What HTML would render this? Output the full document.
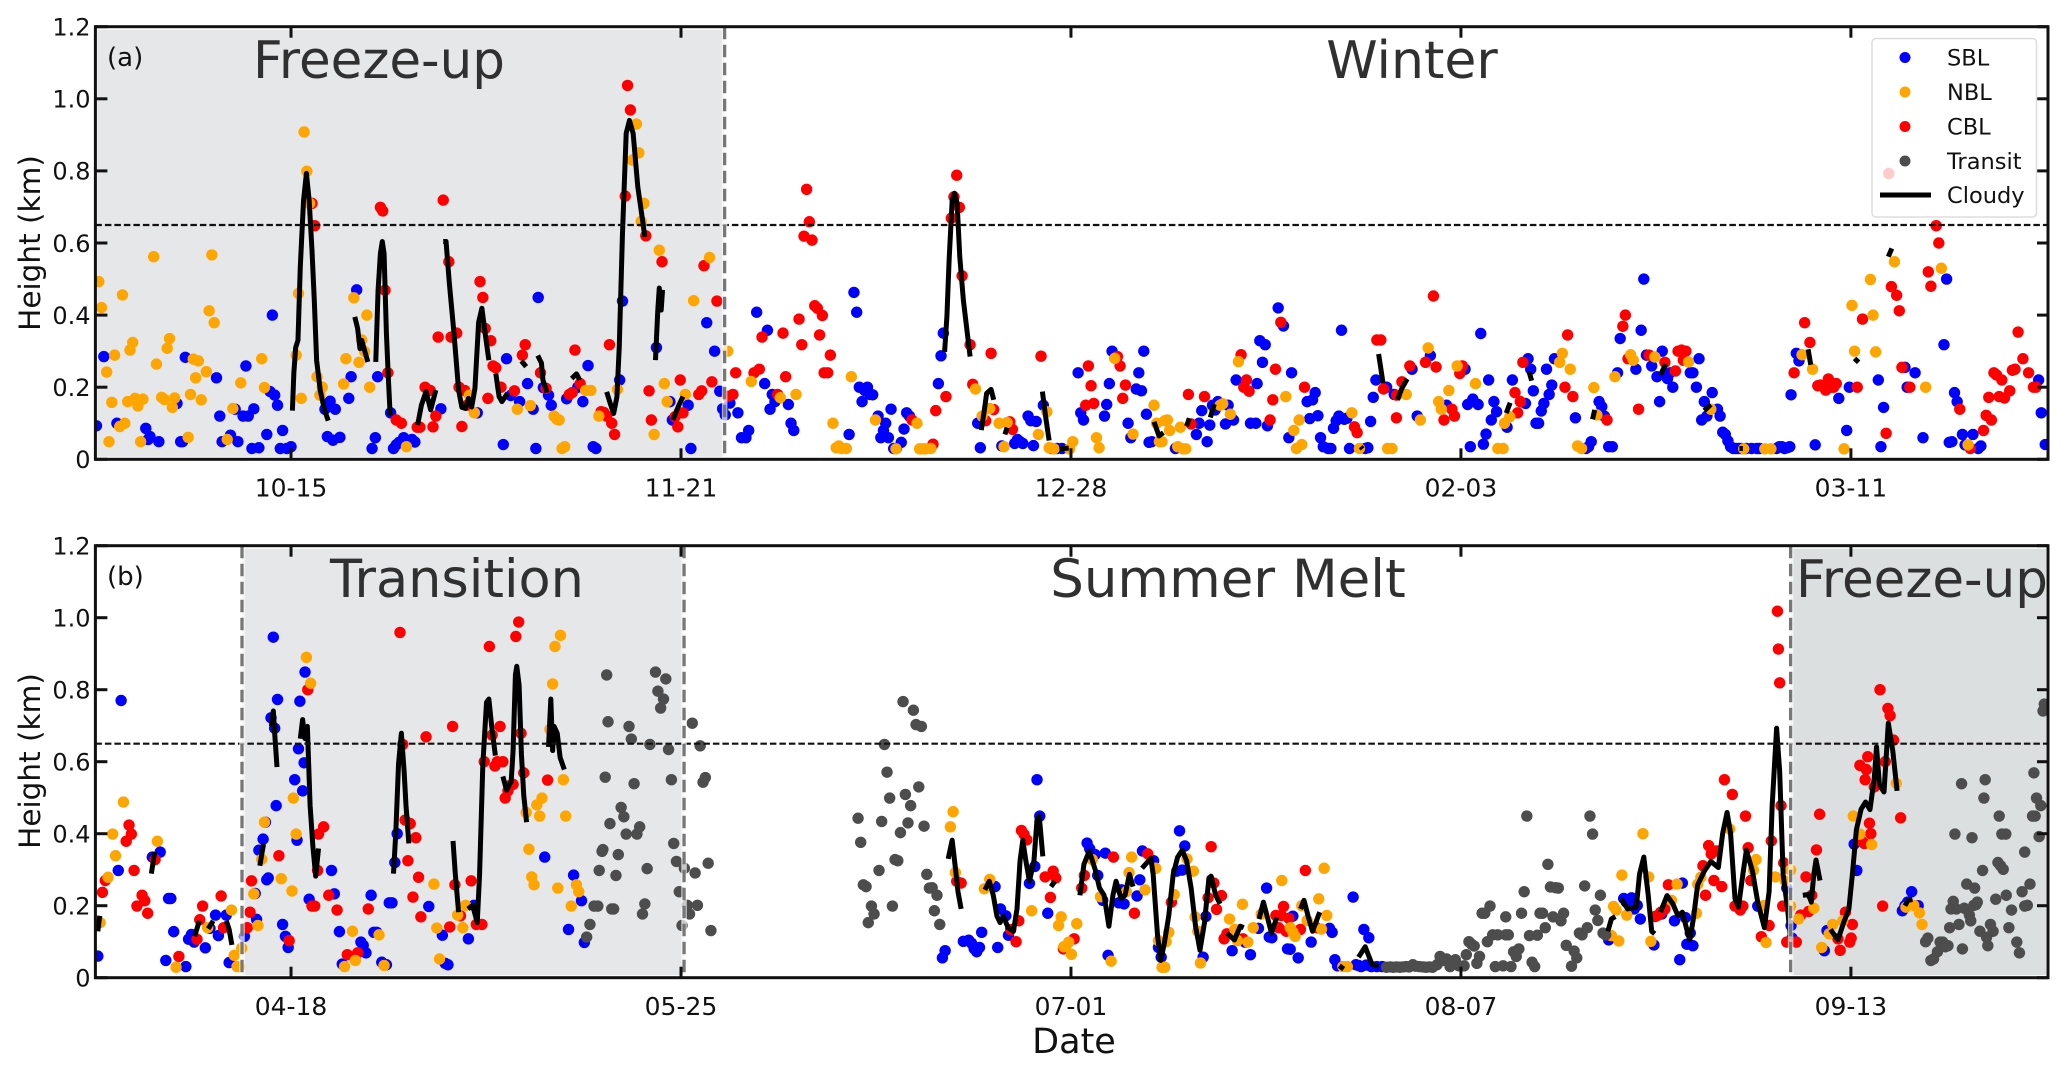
<!DOCTYPE html>
<html lang="en">
<head>
<meta charset="utf-8">
<title>Boundary layer height by season</title>
<style>
html,body{margin:0;padding:0;background:#fff;}
svg{display:block;font-family:"DejaVu Sans","Liberation Sans",sans-serif;}
</style>
</head>
<body>
<svg id="chart" xmlns="http://www.w3.org/2000/svg" width="2067" height="1070" viewBox="0 0 2067 1070">
  <defs>
    <clipPath id="clip-a"><rect x="95.4" y="26.7" width="1952.6" height="432.6"/></clipPath>
    <clipPath id="clip-b"><rect x="95.4" y="545.7" width="1952.6" height="432"/></clipPath>
  </defs>
  <g id="panel-a"></g>
  <g id="panel-b"></g>
  <text x="379" y="78" font-size="51.5" fill="#303030" text-anchor="middle">Freeze-up</text>
  <text x="1412" y="78" font-size="52" fill="#303030" text-anchor="middle">Winter</text>
  <text x="457" y="597" font-size="52.5" fill="#303030" text-anchor="middle">Transition</text>
  <text x="1228" y="597" font-size="53" fill="#303030" text-anchor="middle">Summer Melt</text>
  <text x="1922" y="597" font-size="51.5" fill="#303030" text-anchor="middle">Freeze-up</text>
  <text x="107" y="66" font-size="26" fill="#111">(a)</text>
  <text x="107" y="585" font-size="26" fill="#111">(b)</text>
  <text transform="translate(40,243) rotate(-90)" font-size="29.5" fill="#111" text-anchor="middle">Height (km)</text>
  <text transform="translate(40,761) rotate(-90)" font-size="29.5" fill="#111" text-anchor="middle">Height (km)</text>
  <text x="1074" y="1053" font-size="35" fill="#111" text-anchor="middle">Date</text>
  <g>
    <rect x="1872" y="38.5" width="164.5" height="178.5" rx="4" fill="#fff" fill-opacity="0.8" stroke="#ddd" stroke-width="1.5"/>
    <circle cx="1905" cy="57.5" r="5.5" fill="#0000ff"/>
    <text x="1947" y="65.5" font-size="22.5" fill="#111">SBL</text>
    <circle cx="1905" cy="92" r="5.5" fill="#ffa500"/>
    <text x="1947" y="100" font-size="22.5" fill="#111">NBL</text>
    <circle cx="1905" cy="126.5" r="5.5" fill="#ff0000"/>
    <text x="1947" y="134.5" font-size="22.5" fill="#111">CBL</text>
    <circle cx="1905" cy="161" r="5.5" fill="#4d4d4d"/>
    <text x="1947" y="169" font-size="22.5" fill="#111">Transit</text>
    <line x1="1880" x2="1931" y1="195" y2="195" stroke="#000" stroke-width="5"/>
    <text x="1947" y="203" font-size="22.5" fill="#111">Cloudy</text>
  </g>
</svg>
<script>
// x values: days after the first labelled tick; y values: height in km
const tickDays = [0, 37, 74, 111, 148];
const tickLabelsA = ['10-15', '11-21', '12-28', '02-03', '03-11'];
const tickLabelsB = ['04-18', '05-25', '07-01', '08-07', '09-13'];
const heightTicks = [0, 0.2, 0.4, 0.6, 0.8, 1.0, 1.2];
const heightTickLabels = ['0', '0.2', '0.4', '0.6', '0.8', '1.0', '1.2'];
const thresholdHeight = 0.65;
const seasonEdgesA = [41.14];
const seasonEdgesB = [-4.65, 37.29, 142.28];

const sblA = [[-18.46,.093],[-17.76,.285],[-16.52,.1],[-13.78,.086],[-13.38,.063],[-13.56,.055],[-12.54,.049],[-10.82,.155],[-10.47,.049],[-10.29,.049],[-10.03,.283],[-7.07,.226],[-6.76,.12],[-6.54,.049],[-5.74,.067],[-5.3,.139],[-5.04,.049],[-4.55,.12],[-4.28,.259],[-4.06,.12],[-3.71,.03],[-3.53,.14],[-3.05,.032],[-2.3,.069],[-1.99,.188],[-1.77,.4],[-1.55,.178],[-1.28,.15],[-1.02,.03],[-.8,.08],[-.4,.03],[0,.035],[3.22,.139],[3.45,.063],[3.71,.161],[3.98,.053],[4.2,.139],[4.64,.061],[5.48,.169],[5.7,.229],[6.23,.47],[7.69,.03],[8,.06],[8.22,.229],[9.45,.129],[9.72,.03],[9.98,.04],[10.25,.047],[10.69,.06],[11.48,.055],[11.75,.048],[14.22,.14],[17.67,.129],[20.14,.041],[20.45,.279],[20.85,.177],[21.69,.16],[22.44,.21],[22.97,.139],[23.23,.03],[23.45,.449],[23.94,.199],[24.43,.178],[24.69,.15],[26.15,.168],[27.21,.2],[27.69,.16],[28.18,.26],[28.67,.035],[28.93,.03],[31.18,.22],[31.45,.439],[34.67,.31],[35.95,.16],[36.18,.109],[37.68,.15],[37.94,.03],[39.44,.379],[40.19,.3],[40.68,.189],[40.95,.14],[41.2,.123],
[41.64,.156],[42.4,.129],[42.74,.06],[43.16,.06],[43.42,.08],[44.18,.408],[44.94,.21],[45.2,.358],[45.45,.139],[45.66,.18],[45.92,.16],[47.19,.152],[47.44,.1],[47.7,.08],[52.95,.069],[53.41,.463],[53.67,.408],[53.92,.2],[54.18,.16],[54.43,.191],[54.69,.2],[54.94,.18],[55.19,.179],[55.7,.12],[55.96,.06],[56.21,.08],[56.42,.1],[56.68,.06],[56.93,.139],[57.18,.03],[57.44,.03],[57.9,.047],[58.16,.084],[58.41,.129],[58.67,.12],[61.42,.21],[61.67,.287],[61.89,.35],[65.15,.1],[65.4,.032],[67.44,.037],[68.66,.044],[68.92,.055],[69.17,.049],[69.43,.044],[69.93,.12],[70.19,.107],[70.44,.038],[70.7,.105],[71.38,.15],[72.69,.03],[73.15,.03],[74.68,.24],[74.93,.129],[75.19,.109],[77.18,.12],[77.39,.152],[77.64,.21],[77.9,.3],[79.42,.1],[79.68,.06],[80.19,.195],[80.44,.24],[80.69,.19],[80.91,.3],[81.16,.125],[81.41,.047],[81.67,.049],[83.91,.03],[85.9,.069],[86.16,.1],[86.41,.135],[86.92,.049],[87.17,.095],[87.43,.15],[87.68,.137],[87.94,.16],[88.66,.098],[88.91,.15],[89.42,.109],[89.67,.22],[91.03,.1],[91.54,.1],[91.66,.21],[91.92,.329],[92.17,.269],[92.43,.318],[92.64,.093],[93.66,.42],[94.16,.37],[94.67,.06],[94.93,.24],[96.41,.16],[96.66,.113],[96.92,.165],[97.17,.185],[97.43,.121],[97.68,.06],[97.94,.035],[98.4,.03],[98.66,.03],[98.91,.086],[99.16,.107],[99.42,.12],[99.67,.358],[99.93,.111],[100.18,.114],[100.43,.03],[101.92,.03],[102.17,.032],[102.43,.105],[102.68,.172],[102.93,.22],[103.95,.2],[104.67,.18],
[106.36,.25],[106.85,.12],[108.1,.288],[109.64,.15],[111.39,.25],[111.64,.152],[111.89,.035],[112.13,.167],[112.63,.152],[112.88,.349],[113.13,.042],[113.38,.07],[113.63,.22],[113.88,.109],[114.13,.16],[114.38,.132],[115.38,.089],[115.88,.22],[117.12,.155],[117.37,.279],[117.62,.25],[117.87,.19],[118.12,.1],[118.37,.1],[118.62,.134],[118.87,.155],[119.12,.25],[119.37,.18],[119.62,.206],[119.87,.279],[121.86,.115],[122.86,.03],[123.11,.035],[123.36,.049],[124.11,.16],[124.36,.146],[124.61,.12],[125.02,.035],[125.36,.035],[125.86,.24],[126.11,.335],[127.6,.25],[128.1,.358],[128.35,.5],[128.6,.289],[129.1,.259],[129.6,.229],[129.85,.16],[130.1,.3],[130.35,.238],[130.6,.224],[130.85,.24],[131.1,.2],[132.76,.24],[133.01,.24],[133.34,.2],[133.59,.279],[133.84,.109],[134.09,.16],[134.34,.12],[134.84,.185],[135.34,.139],[135.59,.12],[135.84,.075],[136.08,.069],[136.33,.051],[136.58,.035],[136.83,.03],[137.08,.03],[137.33,.03],[137.58,.03],[138.08,.03],[138.58,.03],[139.08,.03],[139.33,.03],[140.95,.03],[141.2,.035],[141.45,.035],[141.7,.03],[141.95,.032],[142.2,.035],[142.32,.179],[142.82,.294],[143.07,.273],[144.61,.04],[146.85,.169],[147.6,.08],[147.85,.2],[150.6,.22],[150.85,.035],[151.1,.144],[153.13,.255],[153.34,.2],[154.09,.24],[154.84,.06],[156.83,.318],[157.08,.5],[157.33,.047],[157.58,.049],[157.83,.185],[158.08,.16],[158.58,.069],[158.83,.04],[159.58,.069],[160.08,.03],[160.33,.037],[165.81,.22],[166.06,.129],[166.44,.041]];

const cblA = [[1.99,.71],[2.25,.648],[8.48,.699],[8.7,.689],[8.92,.469],[9.19,.24],[9.98,.109],[10.47,.1],[11.97,.089],[12.23,.089],[12.72,.2],[13.21,.191],[13.47,.09],[13.74,.12],[13.96,.339],[14.44,.719],[14.97,.548],[15.19,.339],[15.72,.35],[15.94,.2],[16.21,.091],[16.48,.191],[16.7,.15],[17.93,.493],[18.2,.449],[18.42,.363],[18.68,.169],[18.95,.329],[19.17,.259],[19.43,.254],[19.92,.2],[21.2,.19],[21.95,.289],[22.22,.318],[23.67,.24],[24.2,.197],[26.41,.18],[26.68,.185],[26.94,.303],[27.43,.21],[29.42,.132],[29.68,.13],[29.95,.12],[30.21,.318],[30.43,.1],[30.7,.069],[31.71,.73],[31.93,1.037],[32.2,.969],[33.66,.62],[33.97,.19],[34.19,.109],[35.2,.548],[36.44,.118],[36.7,.09],[36.93,.22],[37.19,.129],[38.69,.18],[38.96,.19],[39.18,.537],[39.93,.215],[40.41,.439],[41.43,.175],
[41.93,.18],[42.19,.24],[43.93,.24],[44.43,.25],[44.69,.339],[46.17,.18],[46.68,.35],[46.93,.229],[48.2,.389],[48.46,.318],[48.67,.619],[48.92,.749],[49.18,.659],[49.43,.608],[49.69,.426],[49.94,.419],[50.15,.345],[50.41,.399],[50.58,.24],[50.92,.24],[51.17,.289],[58.92,.109],[60.91,.042],[61.17,.135],[62.14,.174],[62.65,.669],[62.9,.728],[63.16,.788],[63.41,.699],[63.67,.509],[64.43,.318],[64.68,.208],[65.91,.107],[66.42,.294],[66.67,.138],[68.2,.104],[68.45,.083],[71.16,.286],[72.14,.03],[75.4,.15],[75.65,.259],[75.91,.204],[76.16,.155],[78.41,.285],[78.66,.259],[78.91,.169],[79.17,.206],[85.14,.18],[85.4,.098],[86.67,.174],[90.14,.29],[90.4,.2],[90.65,.22],[90.9,.189],[92.89,.109],[93.15,.165],[93.4,.25],[93.91,.38],[96.16,.2],[100.9,.09],[101.15,.074],[103.02,.331],[103.4,.331],[103.65,.195],[104.88,.115],
[104.9,.178],[105.4,.215],[106.15,.259],[107.64,.269],[108.39,.453],[108.64,.256],[109.39,.109],[110.14,.139],[110.39,.12],[110.89,.238],[111.14,.259],[116.13,.185],[116.38,.129],[116.63,.16],[116.88,.269],[120.87,.2],[121.12,.345],[121.62,.174],[124.86,.109],[126.36,.369],[126.6,.4],[126.85,.279],[127.85,.139],[128.85,.289],[130.35,.269],[131.35,.245],[131.6,.3],[131.93,.303],[132.1,.275],[132.34,.3],[142.61,.24],[143.61,.379],[144.11,.324],[144.86,.204],[145.11,.206],[145.36,.204],[145.61,.192],[145.86,.223],[146.11,.2],[146.36,.2],[146.61,.21],[148.6,.2],[149.1,.389],[151.34,.072],[151.59,.793],[151.84,.479],[152.34,.455],[152.59,.412],[152.84,.255],[153.59,.2],[155.34,.52],[155.59,.48],[156.09,.648],[156.34,.6],[158.33,.139],[159.33,.03],[160.58,.08],[160.83,.122],[161.08,.172],[161.33,.109],[161.57,.24],[161.82,.234],[162.07,.174],[162.32,.22],[162.57,.17],[163.07,.19],[163.32,.247],[163.57,.25],[163.86,.353],[164.32,.279],[164.86,.24],[165.32,.2],[165.56,.2]];

const nblA = [[-18.24,.493],[-17.98,.421],[-17.49,.242],[-17.27,.049],[-17,.158],[-16.74,.289],[-16.25,.091],[-15.99,.456],[-15.77,.1],[-15.5,.16],[-15.28,.303],[-15.02,.324],[-14.8,.169],[-14.53,.148],[-14.27,.049],[-14.05,.167],[-13.03,.562],[-12.77,.264],[-12.28,.172],[-12.01,.166],[-11.75,.308],[-11.53,.335],[-11.26,.144],[-11.04,.17],[-9.76,.061],[-9.54,.18],[-9.28,.278],[-9.05,.226],[-8.79,.273],[-8.52,.165],[-8.04,.243],[-7.77,.412],[-7.51,.567],[-7.29,.379],[-6.05,.055],[-5.52,.141],[-4.77,.212],[-2.78,.279],[-2.52,.199],[.49,.289],[.71,.46],[.97,.169],[1.24,.908],[1.5,.799],[1.77,.71],[2.47,.229],[2.74,.178],[2.96,.2],[4.99,.209],[5.21,.279],[5.96,.448],[6.45,.269],[6.71,.331],[6.98,.299],[7.2,.4],[7.46,.2],[10.95,.035],[16.92,.178],[17.4,.129],[21.47,.139],[22.7,.149],[24.96,.12],[25.22,.111],[25.44,.109],[25.71,.03],[25.97,.035],[27.96,.191],[28.45,.191],[29.2,.12],[30.97,.194],[32.38,.83],[32.77,.93],[33,.85],[33.22,.66],[33.48,.71],[34.45,.069],[34.94,.58],[35.42,.21],[35.69,.16],[37.41,.18],[38.2,.44],[39.71,.56],[41.43,.3],
[43.67,.216],[46.42,.171],[47.91,.18],[51.42,.1],[51.72,.032],[51.97,.037],[52.23,.03],[52.69,.03],[53.16,.229],[55.45,.109],[57.4,.029],[59.39,.1],[59.64,.029],[59.9,.029],[60.19,.029],[60.7,.03],[64.94,.195],[65.57,.12],[66.29,.141],[67.18,.1],[67.65,.035],[67.94,.102],[70.91,.069],[71.71,.132],[71.93,.032],[72.39,.029],[73.87,.029],[74.17,.049],[76.42,.06],[76.67,.032],[78.15,.28],[79.89,.07],[81.88,.15],[82.13,.1],[82.39,.049],[82.64,.049],[82.9,.107],[83.15,.109],[83.36,.08],[84.13,.035],[84.38,.089],[84.63,.029],[84.89,.029],[88.15,.15],[88.4,.154],[89.12,.125],[89.89,.271],[94.38,.174],[95.14,.08],[95.39,.03],[95.65,.109],[95.9,.041],[100.65,.129],[101.37,.03],[104.04,.03],[104.46,.03],
[105.81,.18],[107.15,.109],[107.89,.309],[108.89,.16],[109.14,.139],[109.85,.191],[110.64,.259],[112.38,.21],[114.5,.03],[115,.03],[115.13,.1],[115.63,.118],[120.37,.269],[120.62,.294],[121.37,.25],[122.07,.037],[122.45,.03],[123.61,.199],[123.9,.123],[125.61,.229],[127.1,.29],[127.35,.275],[129.39,.284],[132.59,.27],[134.71,.139],[137.83,.029],[139.83,.029],[140.41,.029],[143.36,.29],[144.36,.25],[147.35,.029],[148.1,.427],[148.35,.3],[149.85,.499],[150.1,.4],[150.35,.298],[152.13,.548],[155.09,.2],[156.58,.53],[159.12,.04]];

const cloudyA = [
[[.13,.135],[.27,.24],[.44,.31],[.66,.33],[.88,.534],[1.19,.719],[1.46,.793],[1.72,.719],[1.99,.58],[2.21,.44],[2.43,.274],[2.78,.19],[3.18,.137],[3.53,.107]],
[[6.05,.395],[6.32,.363],[6.54,.307],[6.71,.33],[6.93,.307],[7.29,.27]],
[[8.04,.27],[8.26,.469],[8.48,.571],[8.66,.604],[8.83,.571],[9.05,.35],[9.23,.229],[9.41,.12]],
[[12.01,.095],[12.37,.15],[12.81,.188],[13.25,.137],[13.74,.192]],
[[14.44,.604],[14.71,.604],[15.02,.489],[15.46,.35],[15.9,.192],[16.21,.144],[16.56,.141],[16.83,.169],[17.14,.145],[17.45,.197],[17.8,.38],[18.11,.419],[18.42,.349],[18.77,.275]],
[[19.43,.238],[19.74,.174],[20.01,.16],[20.54,.183]],
[[21.86,.273],[22.31,.257]],
[[23.41,.288],[23.76,.267],[23.9,.22],[24.29,.185]],
[[26.63,.224],[27.08,.237],[27.39,.22]],
[[29.95,.187],[30.34,.15],[30.61,.127],[30.92,.173],[31.14,.31],[31.45,.627],[31.8,.904],[32.11,.94],[32.46,.904],[32.9,.756],[33.35,.664],[33.57,.617]],
[[34.58,.275],[34.8,.414],[34.94,.475],[35.12,.414],[35.25,.47]],
[[36.22,.109],[36.8,.15],[37.19,.174]],
[[62.01,.298],[62.23,.396],[62.44,.553],[62.73,.719],[62.95,.738],[63.2,.71],[63.45,.562],[63.79,.442],[64.09,.368],[64.43,.285]],
[[65.49,.081],[65.74,.128],[66,.183],[66.42,.194],[66.67,.165]],
[[67.73,.069],[67.94,.088]],
[[71.93,.052],[71.64,.109],[71.29,.188]],
[[72.9,.029],[73.79,.031]],
[[81.88,.104],[82.35,.065],[82.77,.074]],
[[84.97,.092],[85.23,.114]],
[[87.22,.116],[87.6,.153]],
[[101.49,.035],[101.66,.029]],
[[103.19,.292],[103.61,.211]],
[[104.98,.165],[105.4,.197],[105.9,.223]],
[[115.3,.128],[115.67,.157]],
[[117.46,.243],[117.71,.218]],
[[123.49,.111],[123.69,.137]],
[[129.93,.234],[130.43,.264]],
[[134.09,.135],[134.71,.152]],
[[137.42,.03],[137.75,.03]],
[[143.94,.305],[144.19,.262]],
[[148.35,.28],[148.73,.269]],
[[151.55,.562],[151.88,.585]]
];

const sblB = [[-18.33,.06],[-16.39,.298],[-16.12,.77],[-13.16,.335],[-12.41,.349],[-11.88,.048],[-11.62,.22],[-11.4,.22],[-11.13,.128],[-9.98,.031],[-9.72,.107],[-9.45,.12],[-9.19,.099],[-8.13,.083],[-7.69,.137],[-7.16,.174],[-6.89,.117],[-6.14,.174],[-5.87,.042],[-4.42,.115],[-3.4,.234],[-3.27,.162],[-3.05,.354],[-2.65,.385],[-2.43,.432],[-2.3,.272],[-2.16,.277],[-1.9,.722],[-1.68,.946],[-1.55,.693],[-1.41,.478],[-1.28,.773],[-.8,.148],[-.53,.115],[-.27,.084],[.35,.55],[.57,.382],[.71,.636],[.84,.768],[1.1,.519],[1.24,.597],[1.33,.849],[1.72,.218],[3.84,.298],[4.11,.233],[4.59,.128],[4.86,.038],[6.63,.099],[6.85,.09],[7.11,.069],[7.6,.229],[7.86,.126],[8.13,.126],[8.61,.043],[9.05,.036],[9.32,.208],[9.58,.208],[9.85,.32],[10.07,.4],[13.07,.198],[14.36,.118],[14.62,.04],[14.89,.036],[16.83,.108],[17.36,.201],[24.07,.335],[26.33,.134],[26.81,.285],[27.56,.214],[27.83,.098],
[61.8,.055],[62.06,.075],[63.79,.101],[64.3,.104],[64.56,.096],[64.81,.081],[65.06,.072],[65.32,.084],[65.53,.126],[66.8,.253],[67.05,.084],[67.31,.191],[67.82,.172],[68.07,.118],[70.06,.262],[70.57,.309],[70.78,.55],[71.04,.449],[71.8,.179],[75.53,.374],[75.78,.358],[76.29,.342],[76.54,.284],[77.01,.215],[77.26,.346],[77.52,.062],[78.53,.208],[78.79,.244],[79.04,.205],[80.27,.227],[80.53,.272],[80.78,.352],[81.84,.325],[82.3,.084],[82.56,.057],[84.04,.296],[84.3,.408],[84.55,.299],[84.8,.366],[86.54,.057],[86.8,.17],[89.29,.075],[90.52,.099],[91.03,.064],[91.79,.137],[92.56,.249],[92.81,.113],[93.06,.111],[94.55,.08],[94.8,.079],[95.05,.171],[95.56,.055],[96.79,.099],[98.53,.137],[98.78,.126],[99.04,.05],[99.29,.033],[100.77,.224],[101.03,.036],[101.28,.034],[101.53,.031],[101.79,.134],[102,.035],[102.26,.111],[102.51,.031],[103.02,.031],[103.53,.031],
[125.02,.105],[126.44,.22],[126.69,.21],[127.19,.222],[127.44,.191],[127.73,.201],[128.02,.163],[129.31,.091],[130.06,.177],[131.26,.158],[131.76,.05],[132.01,.263],[132.3,.167],[132.43,.093],[132.76,.124],[133.01,.089],[139.16,.199],[141.91,.249],[142.32,.145],[142.41,.11],[145.48,.075],[145.73,.131],[148.31,.371],[148.56,.298],[152.88,.186],[153.13,.2],[153.38,.21],[153.76,.239],[154.38,.2]];

const cblB = [[-17.89,.237],[-17.62,.27],[-15.64,.379],[-15.37,.424],[-15.15,.399],[-14.89,.298],[-14.62,.199],[-14.13,.229],[-13.87,.214],[-13.6,.179],[-12.9,.328],[-10.64,.059],[-8.92,.107],[-8.66,.161],[-8.39,.199],[-6.63,.227],[-6.4,.139],[-4.15,.139],[-3.89,.182],[-3.75,.269],[-1.15,.339],[-.18,.103],[1.59,.8],[1.99,.199],[2.25,.199],[2.52,.298],[2.61,.399],[3.09,.419],[3.58,.229],[4.37,.188],[5.34,.064],[6.32,.069],[7.33,.191],[10.34,.959],[10.6,.648],[10.82,.438],[11.09,.325],[11.31,.428],[11.57,.224],[11.84,.389],[12.1,.279],[12.32,.169],[12.81,.669],[15.06,.141],[15.33,.698],[15.55,.258],[16.08,.172],[17.09,.269],[17.58,.148],[18.11,.148],[18.33,.6],[18.82,.92],[19.08,.674],[19.35,.588],[19.57,.6],[19.83,.698],[20.1,.6],[20.32,.499],[20.58,.519],[20.85,.535],[21.07,.537],[21.33,.948],[21.6,.988],[21.82,.679],[22.08,.569],[24.34,.549],
[63.16,.268],[63.58,.263],[68.28,.134],[68.79,.1],[69.05,.158],[69.3,.409],[69.55,.398],[69.81,.383],[71.55,.28],[72.05,.223],[72.31,.296],[72.56,.277],[73.28,.08],[74.3,.108],[75.02,.249],[75.27,.284],[78.03,.335],[80.02,.179],[81.29,.344],[83.53,.21],[87.01,.222],[87.3,.364],[87.56,.263],[87.81,.19],[88.28,.228],[88.53,.108],[88.79,.122],[90.31,.108],[93.44,.173],[93.7,.139],[93.95,.173],[94.17,.198],[94.42,.129],[94.67,.165],[95.77,.134],[96.24,.298],[97.3,.139],
[129.43,.17],[129.72,.174],[129.97,.182],[130.35,.191],[130.68,.258],[133.96,.311],[134.21,.229],[134.5,.367],[134.75,.344],[135,.27],[135.25,.352],[135.75,.253],[136,.55],[136.75,.509],[137,.199],[137.25,.201],[137.5,.188],[137.75,.199],[138,.449],[138.25,.361],[138.5,.27],[139.5,.114],[140.24,.145],[140.45,.38],[141.03,1.018],[141.12,.913],[141.24,.819],[141.37,.478],[141.53,.199],[141.62,.319],[141.91,.099],[142.82,.099],[143.24,.174],[143.74,.28],[143.99,.184],[144.28,.229],[144.73,.355],[145.03,.454],[146.77,.108],[146.98,.076],[147.48,.182],[147.89,.099],[148.02,.11],[148.14,.148],[148.85,.59],[149.06,.378],[149.27,.373],[149.35,.55],[149.47,.578],[149.6,.614],[149.76,.429],[149.89,.4],[150.22,.53],[150.76,.8],[151.01,.199],[151.26,.6],[151.51,.748],[151.72,.728],[152.05,.66],[152.72,.444]];

const nblB = [[-18.11,.153],[-17.36,.279],[-16.92,.399],[-16.65,.339],[-15.9,.488],[-12.68,.379],[-10.91,.029],[-7.91,.139],[-5.65,.188],[-5.39,.062],[-5.12,.031],[-4.9,.031],[-4.68,.082],[-3.53,.233],[-3.14,.145],[-2.78,.329],[-2.52,.432],[-.93,.275],[.09,.241],[.22,.499],[.49,.399],[1.46,.89],[1.86,.818],[5.08,.031],[5.83,.129],[6.1,.048],[8.35,.119],[8.83,.034],[13.56,.26],[13.83,.138],[14.09,.052],[15.81,.174],[16.3,.139],[16.56,.201],[22.31,.459],[22.57,.357],[22.84,.28],[23.06,.258],[23.32,.48],[23.59,.449],[23.81,.499],[24.56,.69],[24.82,.816],[25.04,.92],[25.31,.249],[25.57,.951],[25.84,.55],[26.06,.449],[26.59,.199],[27.08,.258],[27.3,.239],
[62.56,.419],[62.82,.461],[63.03,.292],[65.78,.247],[66.29,.273],[70.27,.186],[72.82,.145],[73.07,.169],[73.32,.086],[73.54,.088],[73.79,.099],[74.04,.065],[74.55,.15],[76.03,.328],[76.8,.225],[77.81,.046],[79.25,.239],[79.51,.292],[79.76,.335],[81.03,.244],[82.05,.304],[82.3,.103],[82.64,.029],[82.9,.029],[83.02,.1],[83.28,.126],[83.79,.231],[85.01,.33],[85.61,.296],[85.78,.169],[86.03,.129],[86.29,.041],[89.04,.163],[89.55,.134],[89.8,.103],[90.27,.204],[90.78,.099],[91.29,.139],[92.05,.177],[94,.27],[94.8,.139],[95.05,.127],[95.27,.115],[95.9,.2],[96.41,.159],[97.51,.219],[97.77,.135],[98.02,.304],[98.27,.173],[99.8,.031],[100.22,.031],
[125.27,.117],[125.48,.198],[125.73,.188],[125.98,.102],[126.27,.285],[126.73,.174],[128.27,.4],[128.81,.28],[129.02,.101],[130.97,.215],[131.51,.26],[133.34,.179],[133.47,.26],[133.76,.279],[136.5,.413],[138.75,.299],[139,.328],[139.7,.2],[139.95,.098],[140.83,.28],[141.78,.268],[142.28,.199],[142.28,.299],[143.03,.163],[144.48,.193],[145.23,.084],[145.94,.122],[146.27,.148],[147.23,.158],[148.23,.449],[148.85,.399],[149.97,.37],[152.3,.54],[153.22,.196],[153.96,.201],[154.5,.18],[154.75,.148]];

const transitB = [[28.05,.113],[28.36,.148],[28.75,.199],[29.11,.199],[29.24,.298],[29.51,.351],[29.59,.356],[29.81,.557],[29.95,.841],[30.08,.711],[30.26,.428],[30.43,.191],[30.61,.191],[30.83,.284],[31.05,.342],[31.32,.473],[31.58,.447],[31.8,.399],[32.07,.698],[32.29,.663],[32.55,.539],[32.82,.399],[33.08,.419],[33.35,.177],[33.57,.205],[33.79,.303],[34.05,.648],[34.58,.849],[34.81,.796],[35.07,.749],[35.34,.774],[35.56,.83],[35.82,.634],[36.09,.55],[36.31,.373],[36.57,.323],[36.84,.239],[37.1,.145],[37.32,.304],[37.59,.201],[37.81,.177],[38.07,.707],[38.34,.291],[38.56,.201],[38.82,.644],[39.09,.543],[39.31,.556],[39.58,.318],[39.84,.131],
[53.8,.443],[54.05,.376],[54.3,.258],[54.56,.253],[54.77,.153],[55.07,.199],[55.32,.177],[55.79,.298],[56.04,.434],[56.3,.648],[56.55,.571],[56.8,.499],[57.06,.199],[57.31,.328],[57.57,.325],[57.82,.403],[58.07,.767],[58.29,.509],[58.54,.43],[58.79,.478],[59.05,.743],[59.3,.703],[59.56,.53],[59.81,.698],[60.06,.421],[60.32,.287],[60.57,.249],[60.83,.25],[61.04,.186],[61.29,.229],[61.55,.148],
[103.94,.029],[104.3,.03],[104.57,.029],[104.9,.03],[105.19,.029],[105.5,.03],[105.81,.031],[106.1,.03],[106.44,.036],[106.7,.032],[107.06,.031],[107.4,.03],[107.69,.029],[108,.03],[108.31,.029],[108.73,.036],[109.02,.059],[109.35,.048],[109.64,.052],[109.97,.031],[110.47,.05],[110.8,.033],[111.3,.033],[111.51,.064],[111.76,.1],[112.01,.093],[112.26,.088],[112.51,.04],[112.76,.059],[113.01,.179],[113.26,.179],[113.51,.1],[113.76,.199],[114.01,.119],[114.26,.031],[114.5,.119],[115,.033],[115.25,.119],[115.25,.169],[115.5,.119],[115.75,.031],[116,.072],[116.25,.059],[116.5,.08],[116.75,.179],[117,.239],[117.25,.449],[117.5,.117],[117.75,.043],[118,.031],[118.25,.118],[118.5,.179],[118.75,.179],[119,.139],[119.25,.315],[119.49,.252],[119.74,.169],[119.99,.25],[120.24,.249],[120.49,.158],[120.74,.179],[120.99,.09],[121.49,.032],[121.74,.074],[121.99,.055],[122.24,.124],[122.49,.119],[122.74,.255],[122.99,.139],[123.24,.449],[123.49,.399],[123.74,.188],[123.99,.159],[124.23,.229],[124.48,.124],[124.73,.119],
[155.09,.1],[155.3,.11],[155.59,.048],[155.84,.052],[156.21,.072],[156.46,.099],[156.71,.099],[156.96,.086],[157.21,.089],[157.37,.139],[157.5,.191],[157.71,.212],[157.87,.399],[158,.191],[158.25,.148],[158.5,.539],[158.58,.08],[158.75,.193],[158.99,.26],[159.24,.174],[159.37,.158],[159.49,.389],[159.66,.201],[159.74,.249],[159.87,.203],[159.99,.21],[160.24,.129],[160.49,.298],[160.62,.499],[160.74,.55],[160.87,.112],[160.99,.089],[161.24,.148],[161.49,.129],[161.74,.218],[161.95,.32],[162.07,.449],[162.2,.311],[162.32,.399],[162.45,.301],[162.7,.399],[162.74,.229],[162.99,.139],[163.24,.188],[163.74,.099],[163.99,.069],[164.24,.239],[164.49,.349],[164.49,.199],[164.74,.201],[164.99,.26],[165.23,.449],[165.36,.569],[165.48,.449],[165.61,.499],[165.86,.392],[166.02,.478],[166.23,.741],[166.35,.76]];

const cloudyB = [
[[-18.33,.129],[-18.15,.172]],
[[-13.25,.289],[-12.94,.349]],
[[-9.14,.115],[-8.7,.158]],
[[-7.86,.136],[-7.38,.158]],
[[-6.14,.158],[-5.87,.134],[-5.61,.091]],
[[-2.96,.311],[-2.61,.371]],
[[-1.86,.698],[-1.68,.741],[-1.55,.679],[-1.33,.585]],
[[.88,.664],[1.1,.717],[1.33,.664],[1.55,.698],[1.81,.478],[2.08,.363],[2.34,.282],[2.61,.359]],
[[9.72,.289],[9.94,.402],[10.2,.593],[10.47,.679],[10.73,.574],[10.91,.478],[11.18,.373]],
[[15.37,.38],[15.59,.287],[15.9,.182]],
[[16.78,.191],[17.23,.201],[17.67,.153],[17.89,.287],[18.2,.593],[18.55,.765],[18.77,.774],[19.04,.698],[19.39,.617]],
[[20.1,.559],[20.45,.521],[20.89,.545],[21.07,.631],[21.29,.841],[21.42,.865],[21.64,.813],[21.86,.621],[22.08,.507],[22.35,.432]],
[[24.43,.641],[24.65,.774],[24.82,.631],[24.96,.698],[25.26,.679],[25.53,.612],[25.93,.578]],
[[62.35,.33],[62.73,.382],[63.03,.306],[63.28,.239],[63.58,.191]],
[[65.83,.244],[66.25,.268],[66.63,.229],[66.97,.172],[67.27,.153],[67.6,.17],[68.03,.139],[68.54,.129],[68.88,.191],[69.17,.325],[69.43,.382],[69.72,.325],[70.06,.268],[70.49,.325],[70.78,.44],[70.99,.449],[71.33,.337]],
[[72.1,.253],[72.48,.268]],
[[74.85,.229],[75.23,.315],[75.74,.352],[76.29,.301],[76.71,.249],[77.14,.229],[77.6,.143],[77.98,.229],[78.28,.268],[78.75,.22],[79.13,.229],[79.55,.287],[79.89,.253]],
[[80.74,.304],[81.58,.332],[81.8,.287],[82.22,.115],[82.52,.048],[82.86,.096],[83.28,.172],[83.7,.287],[84.12,.335],[84.55,.354],[84.97,.325],[85.4,.249],[85.82,.143],[86.24,.076],[86.67,.153],[87.09,.277],[87.3,.282],[87.73,.229],[88.15,.205]],
[[88.79,.124],[89.51,.105],[90.06,.143],[90.39,.139]],
[[91.84,.163],[92.26,.21],[92.68,.163],[93.02,.124],[93.53,.167]],
[[95.78,.191],[96.11,.215],[96.49,.172],[96.92,.129],[97.6,.182]],
[[99.46,.033],[99.88,.024]],
[[101.28,.057],[101.92,.086],[102.55,.038],[103.19,.031]],
[[124.94,.129],[125.27,.163],[125.65,.17]],
[[126.19,.22],[126.81,.191],[127.64,.196],[127.94,.287],[128.35,.335],[128.77,.229],[129.1,.129],[129.39,.122]],
[[129.93,.182],[130.55,.228],[131.09,.206],[131.59,.172],[132.01,.182],[132.43,.134],[132.72,.105],[133.05,.163],[133.46,.258],[134.09,.296],[134.71,.323],[135.42,.306],[135.84,.402],[136.25,.459],[136.58,.402],[137,.22],[137.33,.196],[137.75,.287],[138.08,.354],[138.66,.296],[139.16,.21],[139.79,.139],[140.24,.239],[140.53,.478],[140.95,.693],[141.24,.574],[141.57,.287],[141.99,.191],[142.28,.105]],
[[143.44,.229],[143.99,.231],[144.24,.21],[144.48,.287],[144.69,.327],[145.07,.27]],
[[146.06,.134],[146.77,.105],[147.31,.153],[147.81,.191],[148.14,.287],[148.52,.411],[148.97,.468],[149.39,.488],[149.81,.467],[150.22,.555],[150.43,.641],[150.71,.535],[151.14,.516],[151.55,.707],[151.97,.631],[152.38,.519]],
[[153.13,.2],[153.42,.215],[153.84,.217]]
];

const SVGNS = 'http://www.w3.org/2000/svg';
const LEFT = 95.4, RIGHT = 2048, DAY_MIN = -18.56, DAY_MAX = 166.7;
function xScale(day) { return LEFT + (day - DAY_MIN) / (DAY_MAX - DAY_MIN) * (RIGHT - LEFT); }
function makeYScale(bottom, top) { return function (h) { return bottom - h / 1.2 * (bottom - top); }; }
function svgEl(tag, parent, props) {
  const el = document.createElementNS(SVGNS, tag);
  for (const k in props) el.setAttribute(k, props[k]);
  parent.appendChild(el);
  return el;
}

function drawDots(layer, points, yScale, color, name) {
  points.forEach(function (p) {
    const c = svgEl('circle', layer, { cx: xScale(p[0]).toFixed(2), cy: yScale(p[1]).toFixed(2), r: 5.7, fill: color });
    
    
  });
}

function drawCloudy(layer, segments, yScale) {
  segments.forEach(function (seg) {
    const pts = seg.map(function (p) { return xScale(p[0]).toFixed(2) + ',' + yScale(p[1]).toFixed(2); }).join(' ');
    const l = svgEl('polyline', layer, { points: pts, fill: 'none', stroke: '#000', 'stroke-width': 5, 'stroke-linejoin': 'round', 'stroke-linecap': 'butt' });
    
    
  });
}

function drawPanel(cfg) {
  const g = document.getElementById(cfg.id);
  const y = cfg.y, top = cfg.top, bottom = cfg.bottom;

  cfg.shades.forEach(function (s) {
    const r = svgEl('rect', g, { x: s[0] === null ? LEFT + 2 : xScale(s[0]), y: top + 3, height: bottom - top - 5.5,
      width: (s[1] === null ? RIGHT - 2 : xScale(s[1])) - (s[0] === null ? LEFT + 2 : xScale(s[0])), fill: s[2] });
    
    
  });

  const clipped = svgEl('g', g, { 'clip-path': 'url(#' + cfg.clip + ')' });
  
  

  cfg.series.forEach(function (s) { drawDots(clipped, s[0], y, s[1], s[2]); });
  drawCloudy(clipped, cfg.cloudy, y);

  const th = svgEl('line', g, { x1: LEFT, x2: RIGHT, y1: y(thresholdHeight), y2: y(thresholdHeight), stroke: '#111', 'stroke-width': 2.2, 'stroke-dasharray': '6.5 3' });
  
  

  cfg.edges.forEach(function (d) {
    const halo = svgEl('line', g, { x1: xScale(d), x2: xScale(d), y1: top, y2: bottom, stroke: '#fff', 'stroke-width': 5.5, 'stroke-opacity': 0.7 });
    
    
    const b = svgEl('line', g, { x1: xScale(d), x2: xScale(d), y1: top, y2: bottom, stroke: '#777', 'stroke-width': 3.3, 'stroke-dasharray': '12.5 5.5' });
    
    
  });

  const frame = svgEl('rect', g, { x: LEFT, y: top, width: RIGHT - LEFT, height: bottom - top, fill: 'none', stroke: '#111', 'stroke-width': 3 });
  
  

  tickDays.forEach(function (d, i) {
    const x = xScale(d);
    const t1 = svgEl('line', g, { x1: x, x2: x, y1: bottom, y2: bottom - 11, stroke: '#111', 'stroke-width': 3 });
    
    
    const t2 = svgEl('line', g, { x1: x, x2: x, y1: top, y2: top + 11, stroke: '#111', 'stroke-width': 3 });
    
    
    const lab = svgEl('text', g, { x: x, y: bottom + 37.3, 'font-size': 25, 'text-anchor': 'middle', fill: '#111' });
    
    
    lab.textContent = cfg.labels[i];
  });

  heightTicks.forEach(function (h, i) {
    const yy = y(h);
    const t1 = svgEl('line', g, { x1: LEFT, x2: LEFT + 12, y1: yy, y2: yy, stroke: '#111', 'stroke-width': 3 });
    
    
    const t2 = svgEl('line', g, { x1: RIGHT, x2: RIGHT - 11, y1: yy, y2: yy, stroke: '#111', 'stroke-width': 3 });
    
    
    const lab = svgEl('text', g, { x: 90.5, y: yy + 8.8, 'font-size': 24, 'text-anchor': 'end', fill: '#111' });
    
    
    lab.textContent = heightTickLabels[i];
  });
}

drawPanel({
  id: 'panel-a', clip: 'clip-a', top: 26.7, bottom: 459.3, y: makeYScale(459.3, 26.7), labels: tickLabelsA,
  shades: [[null, seasonEdgesA[0], '#e6e7e9']],
  edges: seasonEdgesA,
  series: [[sblA, '#0000ff', 'sbl-point'], [cblA, '#ff0000', 'cbl-point'], [nblA, '#ffa500', 'nbl-point']],
  cloudy: cloudyA
});
drawPanel({
  id: 'panel-b', clip: 'clip-b', top: 545.7, bottom: 977.7, y: makeYScale(977.7, 545.7), labels: tickLabelsB,
  shades: [[seasonEdgesB[0], seasonEdgesB[1], '#e6e7e9'], [seasonEdgesB[2], null, '#dcdfe0']],
  edges: seasonEdgesB,
  series: [[sblB, '#0000ff', 'sbl-point'], [cblB, '#ff0000', 'cbl-point'], [nblB, '#ffa500', 'nbl-point'], [transitB, '#4d4d4d', 'transit-point']],
  cloudy: cloudyB
});
</script>
</body>
</html>
